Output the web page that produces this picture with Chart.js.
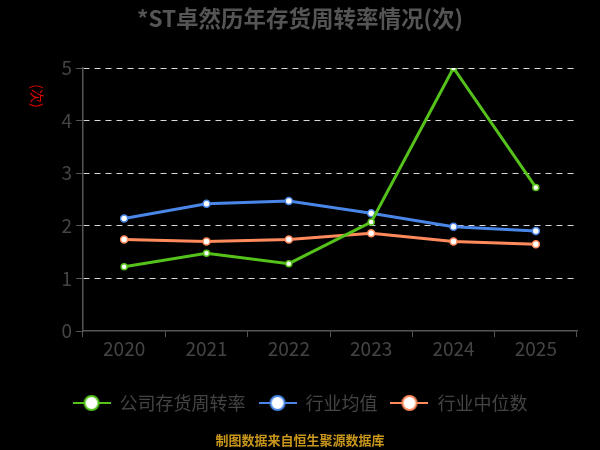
<!DOCTYPE html>
<html>
<head>
<meta charset="utf-8">
<script src="https://cdn.jsdelivr.net/npm/chart.js@4.4.0/dist/chart.umd.min.js"></script>
<style>
  html, body { margin: 0; padding: 0; background: #000; }
  #wrap { width: 600px; height: 450px; }
</style>
</head>
<body>
<div id="wrap"><canvas id="lineChart" width="600" height="450"></canvas></div>
<script>
const years = ["2020", "2021", "2022", "2023", "2024", "2025"];
const companyRate = [1.22, 1.48, 1.28, 2.07, 5.0, 2.73];
const industryAvg = [2.14, 2.42, 2.47, 2.24, 1.98, 1.90];
const industryMedian = [1.74, 1.70, 1.74, 1.86, 1.70, 1.65];
const yTicks = [0, 1, 2, 3, 4, 5];

const FONT = "'Noto Sans CJK SC', 'Noto Sans', sans-serif";
const green = "#55c21b";
const blue = "#4a86e8";
const orange = "#ff8a5c";

// legend marker: a short line with a hollow circle on it
const makeMarker = (color) => {
  const c = document.createElement("canvas");
  c.width = 38;
  c.height = 18;
  const g = c.getContext("2d");
  g.strokeStyle = color;
  g.lineWidth = 2;
  g.beginPath();
  g.moveTo(0, 9);
  g.lineTo(38, 9);
  g.stroke();
  g.beginPath();
  g.arc(19, 9, 7, 0, Math.PI * 2);
  g.fillStyle = "#fff";
  g.fill();
  g.stroke();
  return c;
};

const extras = {
  id: "extras",
  afterDraw(chart) {
    const ctx = chart.ctx;
    ctx.save();
    ctx.fillStyle = "#555";
    ctx.font = "bold 22.5px " + FONT;
    ctx.textAlign = "center";
    ctx.textBaseline = "middle";
    ctx.fillText("*ST卓然历年存货周转率情况(次)", 300, 18);
    ctx.restore();

    ctx.save();
    // y unit label
    ctx.translate(37, 96);
    ctx.rotate(Math.PI / 2);
    ctx.fillStyle = "#e00000";
    ctx.font = "14px " + FONT;
    ctx.textAlign = "center";
    ctx.textBaseline = "middle";
    ctx.fillText("(次)", 0, 0);
    ctx.restore();

    ctx.save();
    ctx.fillStyle = "#c9961c";
    ctx.font = "bold 13px " + FONT;
    ctx.textAlign = "center";
    ctx.textBaseline = "middle";
    ctx.fillText("制图数据来自恒生聚源数据库", 300, 440);
    ctx.restore();
  },
};

const mkSet = (label, data, color, radius) => ({
  label: label,
  data: data,
  borderColor: color,
  backgroundColor: color,
  borderWidth: 3,
  pointRadius: radius,
  pointBorderWidth: 1.5,
  pointBackgroundColor: "#fff",
  pointBorderColor: color,
  tension: 0,
  marker: makeMarker(color),
});

new Chart(document.getElementById("lineChart"), {
  type: "line",
  data: {
    labels: years,
    datasets: [
      mkSet("公司存货周转率", companyRate, green, 3),
      mkSet("行业均值", industryAvg, blue, 3.5),
      mkSet("行业中位数", industryMedian, orange, 3.5),
    ],
  },
  options: {
    responsive: false,
    animation: false,
    devicePixelRatio: 1,
    layout: { padding: { left: 23, right: 23, top: 68, bottom: 28 } },
    plugins: {
      title: { display: false },
      legend: {
        position: "bottom",
        labels: {
          color: "#444",
          font: { family: FONT, size: 18 },
          usePointStyle: true,
          pointStyleWidth: 38,
          padding: 13,
          generateLabels: (chart) =>
            chart.data.datasets.map((ds, i) => ({
              text: ds.label,
              pointStyle: ds.marker,
              fontColor: "#444",
              strokeStyle: ds.borderColor,
              fillStyle: "#fff",
              lineWidth: 0,
              datasetIndex: i,
              hidden: false,
            })),
        },
      },
      tooltip: { enabled: false },
    },
    scales: {
      x: {
        offset: true,
        grid: {
          offset: true,
          drawOnChartArea: false,
          drawTicks: true,
          tickLength: 6,
          tickColor: "#555",
        },
        border: { color: "#555", width: 1.5 },
        ticks: {
          color: "#444",
          font: { family: FONT, size: 19 },
          padding: 0,
        },
        afterFit: (scale) => {
          scale.height = 50;
        },
      },
      y: {
        min: 0,
        max: 5,
        afterBuildTicks: (scale) => {
          scale.ticks = yTicks.map((v) => ({ value: v }));
        },
        grid: {
          color: (c) => (c.tick && c.tick.value === 0 ? "rgba(0,0,0,0)" : "#d8d8d8"),
          lineWidth: 1,
          tickLength: 7,
          tickColor: "#555",
          tickBorderDash: [],
        },
        border: { color: "#555", width: 1.5, dash: [6, 5] },
        ticks: {
          color: "#444",
          font: { family: FONT, size: 19 },
          padding: 4,
        },
        afterFit: (scale) => {
          scale.width = 60;
        },
      },
    },
  },
  plugins: [extras],
});
</script>
</body>
</html>
